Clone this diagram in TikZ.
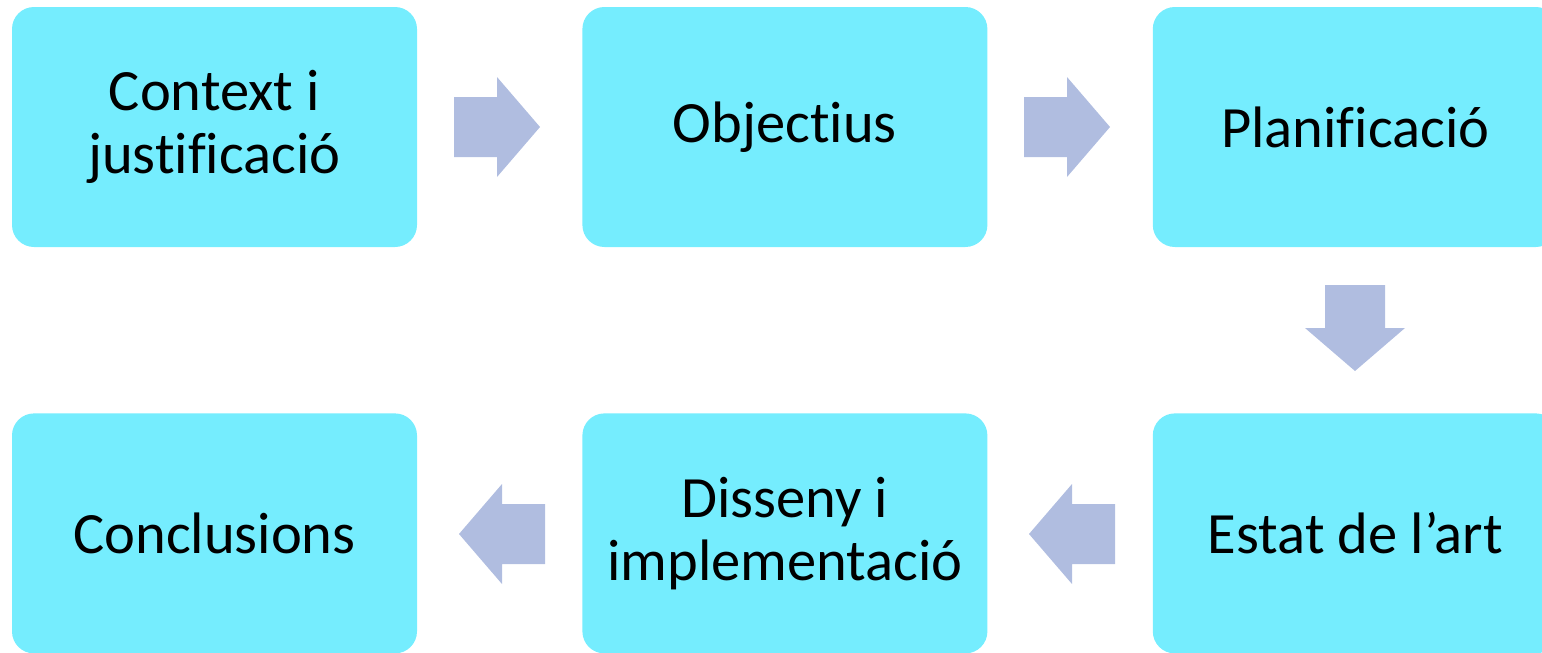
\documentclass[tikz,border=0pt]{standalone}
\usepackage{fontspec}
\setmainfont{Carlito}[Ligatures=NoCommon]
\usetikzlibrary{positioning}
\definecolor{boxcyan}{HTML}{75EDFE}
\definecolor{arrowblue}{HTML}{B0BDE0}

\begin{document}
\begin{tikzpicture}[x=1pt, y=1pt, node distance=165pt and 165pt,
                    step box/.style={fill=boxcyan, rounded corners=22pt, minimum width=405pt,
                                     minimum height=240pt, align=center, inner sep=0pt,
                                     font=\fontsize{58.5pt}{63pt}\selectfont},
                    block arrow/.pic={\fill[arrowblue] (-43,30) -- (0,30) -- (0,50) -- (43,0)
                                      -- (0,-50) -- (0,-30) -- (-43,-30) -- cycle;}]

  \clip (0,0) rectangle (1542,-653);

  \node[step box] (context) at (214.5,-127) {Context i\\justificació};
  \node[step box] (objectius) [right=of context] {Objectius};
  \node[step box] (planificacio) [right=of objectius] {Planificació};
  \node[step box] (estat) [below=166pt of planificacio] {Estat de l’art};
  \node[step box] (disseny) [left=of estat] {Disseny i\\implementació};
  \node[step box] (conclusions) [left=of disseny] {Conclusions};

  % block arrows between the steps
  \pic at (497,-127) {block arrow};
  \pic at (1067,-127) {block arrow};
  \pic[rotate=-90] at (1355,-328) {block arrow};
  \pic[rotate=180] at (1072,-534) {block arrow};
  \pic[rotate=180] at (502,-534) {block arrow};

\end{tikzpicture}
\end{document}
